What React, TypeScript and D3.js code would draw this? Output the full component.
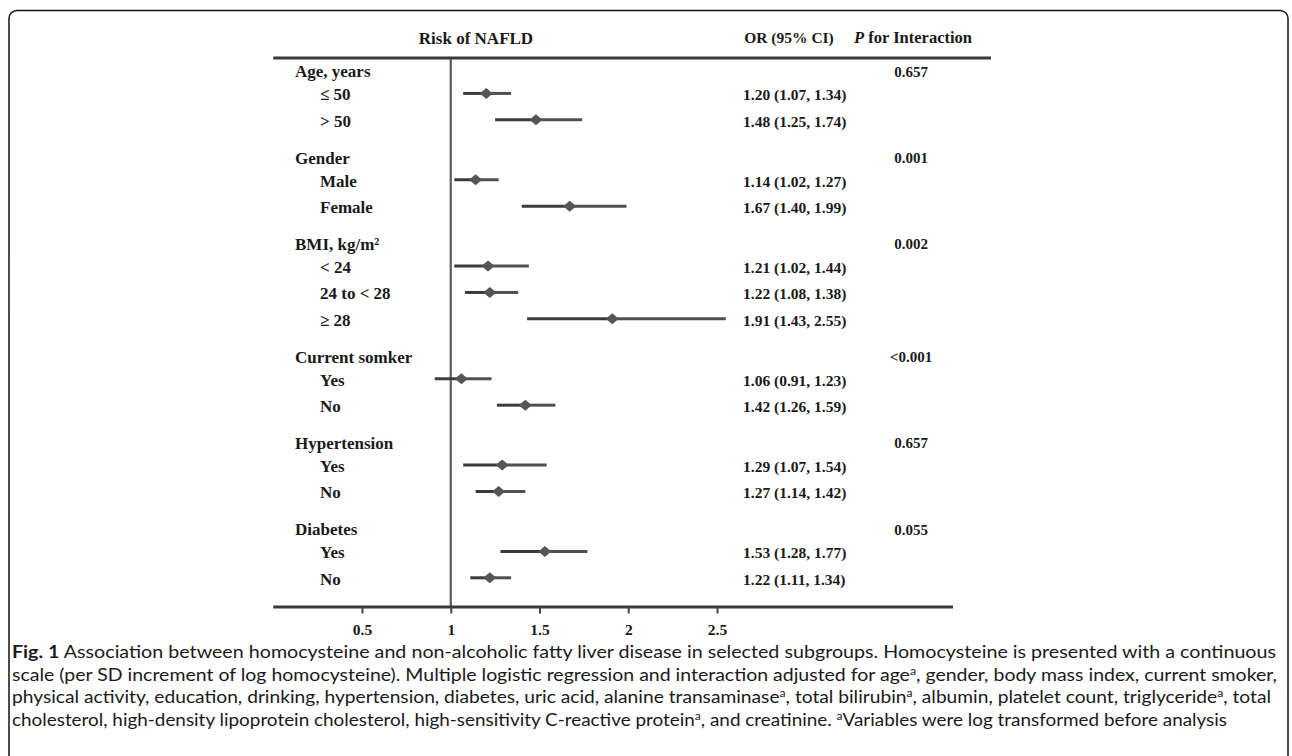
import React, { useRef, useEffect } from 'react';
import * as d3 from 'd3';

// 分组、亚组与数值
const groupNames = ['Age, years', 'Gender', 'BMI, kg/m²', 'Current somker', 'Hypertension', 'Diabetes'];
const pInteraction = ['0.657', '0.001', '0.002', '<0.001', '0.657', '0.055'];
const subLabels = [['≤ 50', '> 50'], ['Male', 'Female'], ['< 24', '24 to < 28', '≥ 28'], ['Yes', 'No'], ['Yes', 'No'], ['Yes', 'No']];
const orValues = [[1.20, 1.48], [1.14, 1.67], [1.21, 1.22, 1.91], [1.06, 1.42], [1.29, 1.27], [1.53, 1.22]];
const ciLower = [[1.07, 1.25], [1.02, 1.40], [1.02, 1.08, 1.43], [0.91, 1.26], [1.07, 1.14], [1.28, 1.11]];
const ciUpper = [[1.34, 1.74], [1.27, 1.99], [1.44, 1.38, 2.55], [1.23, 1.59], [1.54, 1.42], [1.77, 1.34]];
const tickValues = [0.5, 1, 1.5, 2, 2.5];

// 图注文字，每行若干段（b 粗体，sup 上标）
const captionLines = [
  [{ t: 'Fig. 1', b: true }, { t: ' Association between homocysteine and non-alcoholic fatty liver disease in selected subgroups. Homocysteine is presented with a continuous' }],
  [{ t: 'scale (per SD increment of log homocysteine). Multiple logistic regression and interaction adjusted for age' }, { t: 'a', sup: true }, { t: ', gender, body mass index, current smoker,' }],
  [{ t: 'physical activity, education, drinking, hypertension, diabetes, uric acid, alanine transaminase' }, { t: 'a', sup: true }, { t: ', total bilirubin' }, { t: 'a', sup: true }, { t: ', albumin, platelet count, triglyceride' }, { t: 'a', sup: true }, { t: ', total' }],
  [{ t: 'cholesterol, high-density lipoprotein cholesterol, high-sensitivity C-reactive protein' }, { t: 'a', sup: true }, { t: ', and creatinine. ' }, { t: 'a', sup: true }, { t: 'Variables were log transformed before analysis' }],
];
const captionWidths = [1264, 1265, 1259, 1215];

const serif = '"Liberation Serif", "Times New Roman", serif';

const ForestPlot = () => {
  const ref = useRef<SVGSVGElement>(null);

  useEffect(() => {
    const svg = d3.select(ref.current);
    svg.selectAll('*').remove();

    // 外框（底部超出画面）
    svg.append('rect')
      .attr('x', 9).attr('y', 10.5).attr('width', 1279).attr('height', 820)
      .attr('rx', 8).attr('fill', 'none').attr('stroke', '#111').attr('stroke-width', 1.5);

    // 行的位置：组标题 -> 亚组 0.88，亚组之间 1，组之间 1.39
    const rows: any[] = [];
    let pos = 0;
    groupNames.forEach((g, gi) => {
      rows.push({ type: 'head', gi, pos });
      pos += 0.88;
      subLabels[gi].forEach((s, si) => {
        rows.push({ type: 'sub', gi, si, pos });
        pos += 1;
      });
      pos += 0.39;
    });
    const lastPos = rows[rows.length - 1].pos;

    const y = d3.scaleLinear().domain([0, lastPos]).range([71.7, 579.3]);
    const x = d3.scaleLinear().domain([0.5, 2.5]).range([362, 717]);

    const axisY = 607;
    const topLineY = 58;

    // 表头
    svg.append('text').attr('x', 476).attr('y', 38).attr('text-anchor', 'middle')
      .attr('dominant-baseline', 'central').style('font', `bold 17px ${serif}`).attr('fill', '#1a1a1a')
      .text('Risk of NAFLD');
    svg.append('text').attr('x', 789).attr('y', 37).attr('text-anchor', 'middle')
      .attr('dominant-baseline', 'central').style('font', `bold 15.5px ${serif}`).attr('fill', '#1a1a1a')
      .text('OR (95% CI)');
    const ph = svg.append('text').attr('x', 913).attr('y', 37).attr('text-anchor', 'middle')
      .attr('dominant-baseline', 'central').style('font', `bold 16.5px ${serif}`).attr('fill', '#1a1a1a');
    ph.append('tspan').style('font-style', 'italic').text('P');
    ph.append('tspan').text(' for Interaction');

    // 表头下横线
    svg.append('line').attr('x1', x(0)).attr('x2', 991).attr('y1', topLineY).attr('y2', topLineY)
      .attr('stroke', '#3a3a3a').attr('stroke-width', 3.2);

    // 参考线 OR = 1
    svg.append('line').attr('x1', x(1)).attr('x2', x(1)).attr('y1', topLineY + 1).attr('y2', axisY)
      .attr('stroke', '#5a5a5a').attr('stroke-width', 2.2);

    // 左侧标签
    svg.selectAll('text.lab')
      .data(rows)
      .enter()
      .append('text')
      .attr('class', 'lab')
      .attr('x', d => d.type === 'head' ? 295 : 320)
      .attr('y', d => y(d.pos))
      .attr('dominant-baseline', 'central')
      .style('font', `bold 17px ${serif}`)
      .attr('fill', '#1a1a1a')
      .text(d => d.type === 'head' ? groupNames[d.gi] : subLabels[d.gi][d.si]);

    // P 值
    const heads = rows.filter(d => d.type === 'head');
    svg.selectAll('text.p')
      .data(heads)
      .enter()
      .append('text')
      .attr('class', 'p')
      .attr('x', 911)
      .attr('y', d => y(d.pos))
      .attr('text-anchor', 'middle')
      .attr('dominant-baseline', 'central')
      .style('font', `bold 15px ${serif}`)
      .attr('fill', '#1a1a1a')
      .text(d => pInteraction[d.gi]);

    const subs = rows.filter(d => d.type === 'sub');
    const f = d3.format('.2f');

    // OR (95% CI) 文字
    svg.selectAll('text.or')
      .data(subs)
      .enter()
      .append('text')
      .attr('class', 'or')
      .attr('x', 743)
      .attr('y', d => y(d.pos))
      .attr('dominant-baseline', 'central')
      .style('font', `bold 15.5px ${serif}`)
      .attr('fill', '#1a1a1a')
      .text(d => `${f(orValues[d.gi][d.si])} (${f(ciLower[d.gi][d.si])}, ${f(ciUpper[d.gi][d.si])})`);

    // 置信区间：左段稍深、右段稍浅
    const g = svg.append('g');
    g.selectAll('line.ciL')
      .data(subs)
      .enter()
      .append('line')
      .attr('class', 'ciL')
      .attr('x1', d => x(ciLower[d.gi][d.si]))
      .attr('x2', d => x(orValues[d.gi][d.si]))
      .attr('y1', d => y(d.pos) - 1.5)
      .attr('y2', d => y(d.pos) - 1.5)
      .attr('stroke', '#3b3b3b')
      .attr('stroke-width', 3);
    g.selectAll('line.ciR')
      .data(subs)
      .enter()
      .append('line')
      .attr('class', 'ciR')
      .attr('x1', d => x(orValues[d.gi][d.si]))
      .attr('x2', d => x(ciUpper[d.gi][d.si]))
      .attr('y1', d => y(d.pos) - 1.5)
      .attr('y2', d => y(d.pos) - 1.5)
      .attr('stroke', '#505050')
      .attr('stroke-width', 3);

    // 菱形点
    g.selectAll('path.dia')
      .data(subs)
      .enter()
      .append('path')
      .attr('class', 'dia')
      .attr('d', d => {
        const cx = x(orValues[d.gi][d.si]);
        const cy = y(d.pos) - 1.5;
        return `M${cx - 6.5},${cy}L${cx},${cy - 5.5}L${cx + 6.5},${cy}L${cx},${cy + 5.5}Z`;
      })
      .attr('fill', '#555');

    // x 轴
    svg.append('line').attr('x1', x(0)).attr('x2', 953).attr('y1', axisY).attr('y2', axisY)
      .attr('stroke', '#3a3a3a').attr('stroke-width', 3.2);
    const ax = svg.append('g')
      .attr('transform', `translate(0, ${axisY})`)
      .call(d3.axisBottom(x).tickValues(tickValues).tickSize(6.5).tickPadding(10).tickFormat(d3.format('')));
    ax.select('.domain').remove();
    ax.selectAll('.tick line').attr('stroke', '#444').attr('stroke-width', 2);
    ax.selectAll('.tick text')
      .style('font', `bold 15.5px ${serif}`)
      .attr('fill', '#1a1a1a');

    // 图注（上标用 dy 抬高后再放回）
    captionLines.forEach((line, li) => {
      const t = svg.append('text')
        .attr('x', 12)
        .attr('y', 658 + li * 22.7)
        .attr('textLength', captionWidths[li])
        .attr('lengthAdjust', 'spacingAndGlyphs')
        .style('font', '16.5px Lato, "Open Sans", sans-serif')
        .attr('fill', '#1a1a1a');
      let raised = false;
      line.forEach((seg: any) => {
        const s = t.append('tspan').text(seg.t);
        if (seg.b) s.style('font-weight', 'bold');
        if (seg.sup) {
          s.style('font-size', '10.5px').attr('dy', -6);
          raised = true;
        } else if (raised) {
          s.attr('dy', 6);
          raised = false;
        }
      });
    });
  }, []);

  return <svg ref={ref} width={1292} height={756} style={{ position: 'absolute', left: 0, top: 0, background: '#fff' }}></svg>;
};

export default function App() {
  return <ForestPlot />;
}
